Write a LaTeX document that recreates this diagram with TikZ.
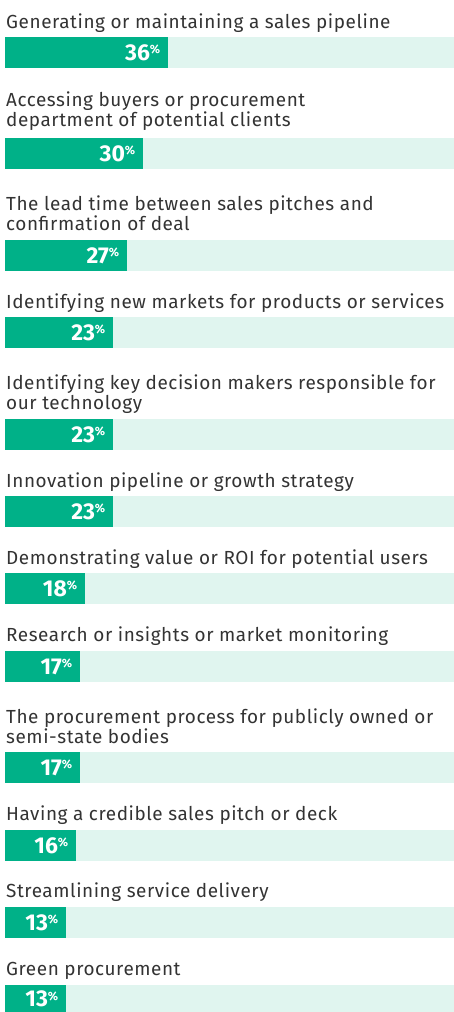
\documentclass[tikz,border=0pt]{standalone}
\usepackage{fontspec}
\setmainfont{Fira Sans}
\newfontfamily\itemfont[LetterSpace=3]{Fira Sans}
\usetikzlibrary{positioning}

\definecolor{barfill}{HTML}{00B188}
\definecolor{trackfill}{HTML}{E0F5EF}
\definecolor{itemgray}{HTML}{333333}

\tikzset{
  itemtext/.style={anchor=base west, inner sep=0pt, align=left, text=itemgray,
    font=\itemfont\fontsize{19}{20}\selectfont},
  trackbar/.style={anchor=north west, fill=trackfill, inner sep=0pt,
    minimum width=449bp, minimum height=31bp},
  valuebar/.style={anchor=north west, fill=barfill, inner sep=0pt, minimum height=31bp},
  pctnum/.style={anchor=east, inner sep=0pt, text=white, font=\bfseries\fontsize{23}{23}\selectfont}
}
\newcommand{\pcsign}[1]{#1\raisebox{0.3em}{\fontsize{12}{12}\selectfont\%}}

\begin{document}
\begin{tikzpicture}[x=1bp, y=-1bp]
		\useasboundingbox (0,0) rectangle (454,1012);
		
		\node[itemtext] (t1) at (6,28) {Generating or maintaining a sales pipeline};
		\node[trackbar] (b1) at (5,37) {};
		\node[valuebar, minimum width=163bp] (v1) at (5,37) {};
		\node[pctnum] (p1) at ([xshift=-8bp]v1.east) {\pcsign{36}};
		
		\node[itemtext] (t2) at (6,126) {Accessing buyers or procurement\\department of potential clients};
		\node[trackbar] (b2) at (5,138) {};
		\node[valuebar, minimum width=138bp] (v2) at (5,138) {};
		\node[pctnum] (p2) at ([xshift=-8bp]v2.east) {\pcsign{30}};
		
		\node[itemtext] (t3) at (6,230) {The lead time between sales pitches and\\confirmation of deal};
		\node[trackbar] (b3) at (5,240) {};
		\node[valuebar, minimum width=122bp] (v3) at (5,240) {};
		\node[pctnum] (p3) at ([xshift=-8bp]v3.east) {\pcsign{27}};
		
		\node[itemtext] (t4) at (6,308) {Identifying new markets for products or services};
		\node[trackbar] (b4) at (5,317) {};
		\node[valuebar, minimum width=108bp] (v4) at (5,317) {};
		\node[pctnum] (p4) at ([xshift=-8bp]v4.east) {\pcsign{23}};
		
		\node[itemtext] (t5) at (6,409) {Identifying key decision makers responsible for\\our technology};
		\node[trackbar] (b5) at (5,419) {};
		\node[valuebar, minimum width=108bp] (v5) at (5,419) {};
		\node[pctnum] (p5) at ([xshift=-8bp]v5.east) {\pcsign{23}};
		
		\node[itemtext] (t6) at (6,487) {Innovation pipeline or growth strategy};
		\node[trackbar] (b6) at (5,496) {};
		\node[valuebar, minimum width=108bp] (v6) at (5,496) {};
		\node[pctnum] (p6) at ([xshift=-8bp]v6.east) {\pcsign{23}};
		
		\node[itemtext] (t7) at (6,564) {Demonstrating value or ROI for potential users};
		\node[trackbar] (b7) at (5,573) {};
		\node[valuebar, minimum width=80bp] (v7) at (5,573) {};
		\node[pctnum] (p7) at ([xshift=-8bp]v7.east) {\pcsign{18}};
		
		\node[itemtext] (t8) at (6,641) {Research or insights or market monitoring};
		\node[trackbar] (b8) at (5,651) {};
		\node[valuebar, minimum width=75bp] (v8) at (5,651) {};
		\node[pctnum] (p8) at ([xshift=-8bp]v8.east) {\pcsign{17}};
		
		\node[itemtext] (t9) at (6,743) {The procurement process for publicly owned or\\semi-state bodies};
		\node[trackbar] (b9) at (5,752) {};
		\node[valuebar, minimum width=75bp] (v9) at (5,752) {};
		\node[pctnum] (p9) at ([xshift=-8bp]v9.east) {\pcsign{17}};
		
		\node[itemtext] (t10) at (6,820) {Having a credible sales pitch or deck};
		\node[trackbar] (b10) at (5,830) {};
		\node[valuebar, minimum width=71bp] (v10) at (5,830) {};
		\node[pctnum] (p10) at ([xshift=-8bp]v10.east) {\pcsign{16}};
		
		\node[itemtext] (t11) at (6,897) {Streamlining service delivery};
		\node[trackbar] (b11) at (5,907) {};
		\node[valuebar, minimum width=61bp] (v11) at (5,907) {};
		\node[pctnum] (p11) at ([xshift=-8bp]v11.east) {\pcsign{13}};
		
		% last bar runs off the bottom edge
		\node[itemtext] (t12) at (6,975) {Green procurement};
		\node[trackbar] (b12) at (5,985) {};
		\node[valuebar, minimum width=61bp] (v12) at (5,985) {};
		\node[pctnum] (p12) at ([xshift=-8bp, yshift=1.5bp]v12.east) {\pcsign{13}};
		
		\end{tikzpicture}
\end{document}
